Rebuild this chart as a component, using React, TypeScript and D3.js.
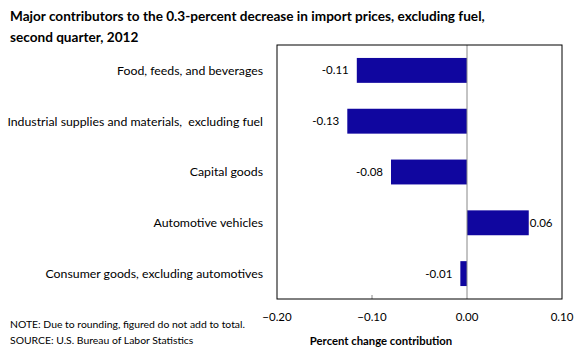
import React, { useEffect, useRef } from 'react';
import * as d3 from 'd3';

// chart data
const categories = [
  'Food, feeds, and beverages',
  'Industrial supplies and materials,  excluding fuel',
  'Capital goods',
  'Automotive vehicles',
  'Consumer goods, excluding automotives',
];
const values = [-0.116, -0.126, -0.08, 0.065, -0.007];
const valueLabels = ['-0.11', '-0.13', '-0.08', '0.06', '-0.01'];
const xTicks = [-0.2, -0.1, 0, 0.1];

const App = () => {
  const ref = useRef<SVGSVGElement>(null);

  useEffect(() => {
    const svg = d3.select(ref.current);
    svg.selectAll('*').remove();

    const font = 'Lato, "Open Sans", sans-serif';
    const left = 277, right = 562, top = 45, bottom = 299;

    const x = d3.scaleLinear().domain([-0.2, 0.1]).range([left, right]);
    const y = d3.scaleBand().domain(categories).range([top, bottom]).paddingInner(0.51).paddingOuter(0.255);

    // title
    const title = svg.append('text')
      .attr('font-family', font).attr('font-weight', 'bold').attr('font-size', 13.6).attr('fill', '#000');
    title.append('tspan').attr('x', 10).attr('y', 21).text('Major contributors to the 0.3-percent decrease in import prices, excluding fuel,');
    title.append('tspan').attr('x', 10).attr('y', 42).text('second quarter, 2012');

    // bars
    svg.append('g').selectAll('rect')
      .data(values)
      .enter()
      .append('rect')
      .attr('x', d => x(Math.min(0, d)))
      .attr('y', (d, i) => y(categories[i])!)
      .attr('width', d => Math.abs(x(d) - x(0)))
      .attr('height', y.bandwidth())
      .attr('fill', '#10069f');

    // zero line
    svg.append('line')
      .attr('x1', x(0)).attr('x2', x(0)).attr('y1', top).attr('y2', bottom)
      .attr('stroke', '#888').attr('stroke-width', 1);

    // inner tick
    svg.append('line')
      .attr('x1', x(-0.1)).attr('x2', x(-0.1)).attr('y1', bottom - 4).attr('y2', bottom)
      .attr('stroke', '#888').attr('stroke-width', 1);

    // frame
    svg.append('rect')
      .attr('x', left).attr('y', top).attr('width', right - left).attr('height', bottom - top)
      .attr('fill', 'none').attr('stroke', '#000').attr('stroke-width', 1);

    // value labels
    svg.append('g').selectAll('text')
      .data(values)
      .enter()
      .append('text')
      .attr('x', d => (d < 0 ? x(d) - 8 : x(d) + 1))
      .attr('y', (d, i) => y(categories[i])! + y.bandwidth() / 2)
      .attr('dy', '0.35em')
      .attr('text-anchor', d => (d < 0 ? 'end' : 'start'))
      .attr('font-family', font).attr('font-size', 11.5).attr('fill', '#000')
      .text((d, i) => valueLabels[i]);

    // category labels
    svg.append('g').selectAll('text')
      .data(categories)
      .enter()
      .append('text')
      .attr('x', 263)
      .attr('y', d => y(d)! + y.bandwidth() / 2)
      .attr('dy', '0.35em')
      .attr('text-anchor', 'end')
      .attr('font-family', font).attr('font-size', 12.3).attr('fill', '#000')
      .style('white-space', 'pre')
      .text(d => d);

    // x tick labels
    svg.append('g').selectAll('text')
      .data(xTicks)
      .enter()
      .append('text')
      .attr('x', d => x(d))
      .attr('y', 317)
      .attr('dy', '0.35em')
      .attr('text-anchor', 'middle')
      .attr('font-family', font).attr('font-size', 11.5).attr('fill', '#000')
      .text(d => d3.format('.2f')(d));

    svg.append('text')
      .attr('x', 381).attr('y', 341).attr('dy', '0.35em')
      .attr('text-anchor', 'middle')
      .attr('font-family', font).attr('font-weight', 'bold').attr('font-size', 11.3).attr('fill', '#000')
      .text('Percent change contribution');

    // notes
    svg.append('text')
      .attr('x', 10).attr('y', 324).attr('dy', '0.35em')
      .attr('font-family', font).attr('font-size', 10.4).attr('fill', '#000')
      .text('NOTE: Due to rounding, figured do not add to total.');
    svg.append('text')
      .attr('x', 10).attr('y', 340).attr('dy', '0.35em')
      .attr('font-family', font).attr('font-size', 10.4).attr('fill', '#000')
      .text('SOURCE: U.S. Bureau of Labor Statistics');
  }, []);

  return (
    <svg ref={ref} width={580} height={363} style={{ position: 'absolute', left: 0, top: 0, background: '#fff' }}></svg>
  );
};

export default App;
